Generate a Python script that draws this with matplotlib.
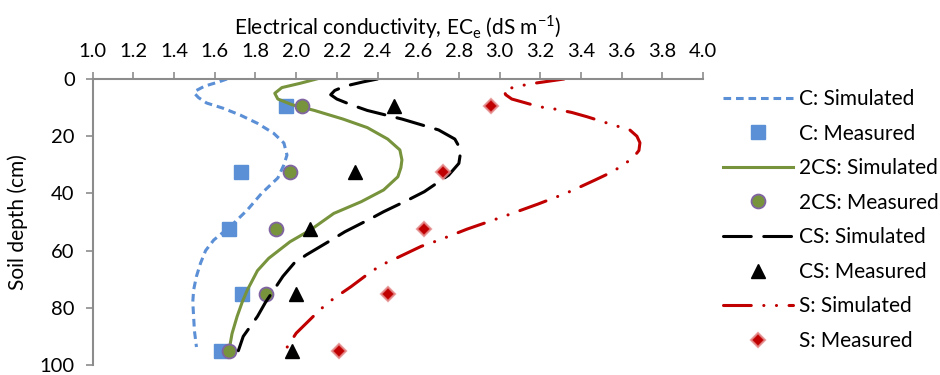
import matplotlib
matplotlib.use("Agg")
import matplotlib.pyplot as plt
from matplotlib.ticker import MultipleLocator, FormatStrFormatter

plt.rcParams['font.family'] = ['Lato', 'DejaVu Sans']
plt.rcParams['lines.scale_dashes'] = False
plt.rcParams['mathtext.fontset'] = 'custom'
plt.rcParams['mathtext.rm'] = 'Lato'

# Measured depths (cm)
meas_depth = [9.5, 32.5, 52.5, 75, 95]
c_meas = [1.95, 1.73, 1.67, 1.735, 1.63]
cs2_meas = [2.03, 1.97, 1.90, 1.85, 1.67]
cs_meas = [2.48, 2.29, 2.07, 2.00, 1.98]
s_meas = [2.96, 2.72, 2.63, 2.45, 2.21]

# Simulated profiles (depth cm, EC)
c_sim_depth = [0, 1, 2.5, 4, 5, 6.5, 8.4, 10.2, 12.6, 15.5, 19, 22.4, 26.6, 30, 34.6,
               40, 45.8, 51.6, 56.3, 60, 64.4, 69, 73.8, 78, 83, 88, 93.7]
c_sim = [1.66, 1.62, 1.55, 1.51, 1.50, 1.52, 1.56, 1.64, 1.725, 1.81, 1.89, 1.94, 1.955,
         1.94, 1.91, 1.83, 1.76, 1.676, 1.595, 1.555, 1.53, 1.51, 1.496, 1.492, 1.496,
         1.50, 1.51]

cs2_sim_depth = [0, 1.5, 3, 5, 7, 9, 11, 14, 17, 21, 24.8, 28.3, 31, 34.2, 38.8, 42.9,
                 47, 52.8, 56.9, 62.7, 67, 73.8, 78, 83, 89, 95]
cs2_sim = [2.10, 2.02, 1.93, 1.895, 1.91, 1.98, 2.09, 2.23, 2.35, 2.45, 2.51, 2.52,
           2.515, 2.50, 2.43, 2.32, 2.185, 2.07, 1.97, 1.865, 1.81, 1.76, 1.735, 1.71,
           1.685, 1.67]

cs_sim_depth = [0, 1, 2.5, 4, 5.5, 7, 9, 11, 14, 17.8, 21, 24.8, 29.5, 33.6, 39.4,
                42.3, 46.4, 48.7, 53.4, 56, 61.5, 64.4, 69, 73.8, 78, 83, 90, 95]
cs_sim = [2.40, 2.33, 2.24, 2.19, 2.17, 2.20, 2.27, 2.35, 2.52, 2.70, 2.78, 2.81, 2.80,
          2.75, 2.63, 2.55, 2.43, 2.37, 2.24, 2.18, 2.05, 1.99, 1.935, 1.89, 1.85, 1.81,
          1.74, 1.716]

s_sim_depth = [0, 1.5, 2.4, 3.8, 5.5, 7, 9.7, 10.6, 11.7, 13.2, 16.1, 17.8, 20, 22.3,
               25, 27.2, 30, 32.6, 35.3, 37.6, 40, 43.7, 47.3, 49.3, 52.5, 56.4, 58.5,
               62.4, 65, 67.8, 72.6, 77, 80.5, 84.7, 88.9, 95.5]
s_sim = [3.317, 3.17, 3.10, 3.02, 3.03, 3.06, 3.195, 3.28, 3.355, 3.43, 3.56, 3.64,
         3.675, 3.69, 3.685, 3.66, 3.61, 3.55, 3.47, 3.40, 3.325, 3.19, 3.05, 2.97,
         2.84, 2.70, 2.615, 2.50, 2.42, 2.36, 2.27, 2.18, 2.12, 2.06, 2.00, 1.94]

labels = ["C: Simulated", "C: Measured", "2CS: Simulated", "2CS: Measured",
          "CS: Simulated", "CS: Measured", "S: Simulated", "S: Measured"]

blue = '#5B8FD6'
green = '#77933C'
purple = '#8064A2'
red = '#C00000'

fig = plt.figure(figsize=(9.4, 3.75), dpi=100)
ax = fig.add_axes([92.7/940, 1-365/375, (703-92.7)/940, (365-79)/375])

lw = 2.2
h = []
h += ax.plot(c_sim, c_sim_depth, color=blue, lw=lw, dashes=(5.5, 3.5), label=labels[0])
h += ax.plot(c_meas, meas_depth, ls='none', marker='s', ms=9.5, color=blue, label=labels[1])
h += ax.plot(cs2_sim, cs2_sim_depth, color=green, lw=lw, label=labels[2])
h += ax.plot(cs2_meas, meas_depth, ls='none', marker='o', ms=10, mfc=green, mec=purple,
             mew=1.3, label=labels[3])
h += ax.plot(cs_sim, cs_sim_depth, color='black', lw=lw, dashes=(20, 9),
             dash_capstyle='round', label=labels[4])
h += ax.plot(cs_meas, meas_depth, ls='none', marker='^', ms=10, color='black', label=labels[5])
h += ax.plot(s_sim, s_sim_depth, color=red, lw=lw, dashes=(20, 9, 0.1, 9, 0.1, 9),
             dash_capstyle='round', label=labels[6])
h += ax.plot(s_meas, meas_depth, ls='none', marker='D', ms=7.5, mfc=red,
             mec=(0.9, 0.55, 0.55, 0.8), mew=1.6, label=labels[7])

ax.set_xlim(1.0, 4.0)
ax.set_ylim(100, 0)
ax.xaxis.set_major_locator(MultipleLocator(0.2))
ax.xaxis.set_major_formatter(FormatStrFormatter('%.1f'))
ax.yaxis.set_major_locator(MultipleLocator(20))
ax.xaxis.tick_top()
ax.xaxis.set_label_position('top')

for s in ['right', 'bottom']:
    ax.spines[s].set_visible(False)
for s in ['left', 'top']:
    ax.spines[s].set_color('#8C8C8C')
    ax.spines[s].set_linewidth(1.5)

ax.tick_params(axis='x', which='both', direction='out', length=5, width=1.2,
               color='#8C8C8C', labelsize=14.5, pad=9)
ax.tick_params(axis='y', which='both', direction='out', length=5, width=1.2,
               color='#8C8C8C', labelsize=14.5, pad=8)

ax.set_xlabel('Electrical conductivity, EC$_\\mathregular{e}$ (dS m$^\\mathregular{-1}$)',
              fontsize=15, labelpad=6)
ax.set_ylabel('Soil depth (cm)', fontsize=15, labelpad=8)

fig.legend(handles=h, labels=labels, loc='center left',
           bbox_to_anchor=(704/940, 1-220/375), frameon=False, fontsize=15,
           handlelength=3.36, handletextpad=0.3, labelspacing=0.7)

fig.savefig('out.png', dpi=100)
